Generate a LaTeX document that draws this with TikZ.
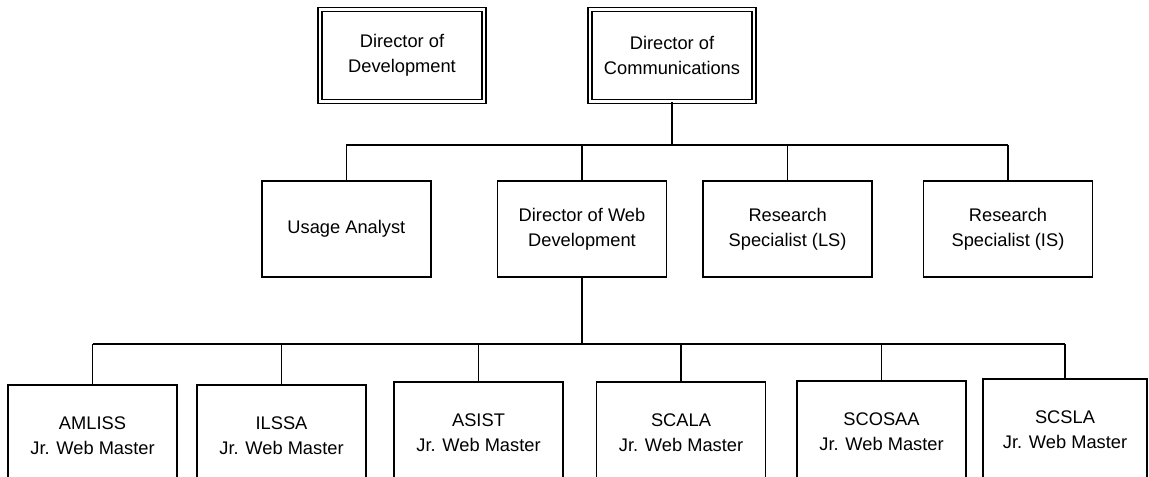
\documentclass[tikz,border=0pt]{standalone}
\usepackage{fontspec}
\setmainfont{Liberation Sans}
\usetikzlibrary{positioning,calc}

\begin{document}
\begin{tikzpicture}[
  font=\fontsize{13}{17.8}\selectfont,
  box/.style={draw=black, line width=1.1pt, rectangle, align=center, inner sep=0pt, minimum width=4.225cm, minimum height=2.4cm},
  wm/.style={box, minimum height=2.55cm},
  dbox/.style={draw=black, line width=0.95pt, double, double distance=1.8pt, rectangle, align=center, inner sep=0pt, minimum width=4.1cm, minimum height=2.3cm},
  conn/.style={draw=black, line width=1.1pt},
  trunk/.style={draw=black, line width=2pt},
]
  \useasboundingbox (0,0) rectangle (28.725,-11.925);
  \clip (0,0) rectangle (28.725,-11.925);

  % directors
  \node[dbox] (dev)  at (10.05,-1.3875) {Director of\\Development};
  \node[dbox] (comm) at (16.8,-1.3875)  {Director of\\Communications};

  % staff under communications
  \node[box] (usage)  at (8.66,-5.725)  {Usage Analyst};
  \node[box] (webdev) at (14.55,-5.725) {Director of Web\\Development};
  \node[box] (rsls)   at (19.69,-5.725) {Research\\Specialist (LS)};
  \node[box] (rsis)   at (25.2,-5.725)  {Research\\Specialist (IS)};

  % web masters
  \node[wm] (amliss) at (2.3125,-10.9)  {AMLISS\\Jr. Web Master};
  \node[wm] (ilssa)  at (7.0375,-10.9)  {ILSSA\\Jr. Web Master};
  \node[wm] (asist)  at (11.9625,-10.825) {ASIST\\Jr. Web Master};
  \node[wm] (scala)  at (17.025,-10.825) {SCALA\\Jr. Web Master};
  \node[wm] (scosaa) at (22.0375,-10.8) {SCOSAA\\Jr. Web Master};
  \node[wm, minimum width=4.1cm] (scsla) at (26.625,-10.75) {SCSLA\\Jr. Web Master};

  \coordinate (bus1) at (0,-3.625);
  \coordinate (bus2) at (0,-8.6);

  % first level
  \draw[trunk] (comm.south) -- (comm.south |- bus1);
  \draw[conn] (usage.north |- bus1) -- (rsis.north |- bus1);
  \foreach \n in {usage,webdev,rsls,rsis}
    \draw[conn] (\n.north) -- (\n.north |- bus1);

  % second level
  \draw[trunk] (webdev.south) -- (webdev.south |- bus2);
  \draw[conn, line width=1.6pt] (amliss.north |- bus2) -- (scsla.north |- bus2);
  \foreach \n in {amliss,ilssa,asist,scala,scosaa,scsla}
    \draw[conn] (\n.north) -- (\n.north |- bus2);
\end{tikzpicture}
\end{document}
